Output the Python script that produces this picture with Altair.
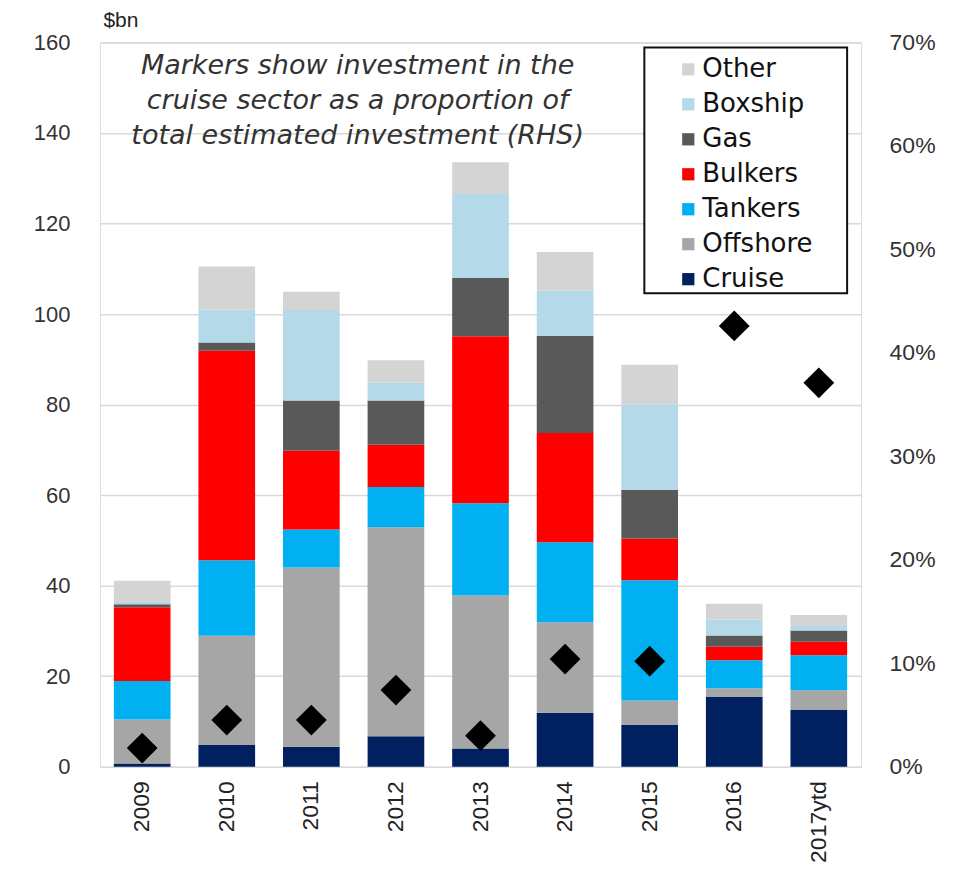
import altair as alt
import pandas as pd

years = ["2009", "2010", "2011", "2012", "2013", "2014", "2015", "2016", "2017ytd"]
cruise = [0.7, 4.8, 4.4, 6.7, 4.0, 11.9, 9.2, 15.4, 12.5]
offshore = [9.7, 24.1, 39.6, 46.2, 33.8, 20.0, 5.4, 1.9, 4.4]
tankers = [8.5, 16.7, 8.4, 8.9, 20.4, 17.7, 26.6, 6.2, 7.7]
bulkers = [16.3, 46.3, 17.4, 9.3, 36.9, 24.1, 9.2, 3.0, 3.0]
gas = [0.7, 1.8, 11.1, 9.8, 12.9, 21.5, 10.8, 2.5, 2.5]
boxship = [0.5, 7.3, 20.0, 3.9, 18.5, 10.0, 18.8, 3.5, 1.0]
other = [4.7, 9.5, 4.0, 5.0, 7.0, 8.5, 8.8, 3.5, 2.4]
cruise_share = [1.8, 4.5, 4.5, 7.4, 3.0, 10.4, 10.2, 42.6, 37.1]

series_names = ["Cruise", "Offshore", "Tankers", "Bulkers", "Gas", "Boxship", "Other"]
series_values = [cruise, offshore, tankers, bulkers, gas, boxship, other]
series_colors = ["#002060", "#a6a6a6", "#00b0f0", "#ff0000", "#595959", "#b4d9e8", "#d4d4d4"]

rows = []
for i, (name, vals) in enumerate(zip(series_names, series_values)):
    for y, v in zip(years, vals):
        rows.append({"year": y, "sector": name, "value": v, "ord": i})
bars_df = pd.DataFrame(rows)
share_df = pd.DataFrame({"year": years, "share": cruise_share})

legend_order = series_names[::-1]
color_scale = alt.Scale(domain=legend_order,
                        range=[series_colors[series_names.index(n)] for n in legend_order])

FONT = "Liberation Sans"
WIDE = "DejaVu Sans"

x_enc = alt.X("year:N", sort=years,
              scale=alt.Scale(paddingInner=0.33, paddingOuter=0.165),
              axis=alt.Axis(title=None, labelAngle=-90, labelFontSize=23, labelFont=FONT,
                            labelColor="#222", labelPadding=14, ticks=False, domain=False))

bars = alt.Chart(bars_df).mark_bar().encode(
    x=x_enc,
    y=alt.Y("value:Q", stack="zero",
            scale=alt.Scale(domain=[0, 160], nice=False),
            axis=alt.Axis(values=list(range(0, 161, 20)), title="$bn", titleAngle=0,
                          titleX=3, titleY=-22, titleAlign="left", titleBaseline="middle",
                          titleFontSize=21, titleFontWeight="normal", titleFont=FONT,
                          titleColor="#222",
                          labelFontSize=22, labelFont=FONT, labelColor="#333",
                          labelPadding=30, ticks=False, domain=False,
                          grid=True, gridColor="#d9d9d9", gridWidth=1.5)),
    color=alt.Color("sector:N", scale=color_scale,
                    legend=alt.Legend(title=None, orient="none", legendX=545, legendY=9,
                                      padding=5, fillColor="transparent",
                                      strokeColor="transparent",
                                      symbolType="square",
                                      symbolSize=150, symbolStrokeWidth=0,
                                      symbolOffset=26,
                                      labelFontSize=26, labelFont=WIDE, labelColor="#111",
                                      labelOffset=1, rowPadding=9, labelLimit=250)),
    order=alt.Order("ord:Q", sort="ascending"),
)

points = alt.Chart(share_df).mark_point(shape="diamond", filled=True, color="black",
                                        size=950, opacity=1).encode(
    x=alt.X("year:N", sort=years),
    y=alt.Y("share:Q", scale=alt.Scale(domain=[0, 70], nice=False),
            axis=alt.Axis(orient="right", values=list(range(0, 71, 10)), title=None,
                          labelExpr="datum.value + '%'", labelFontSize=23, labelFont=FONT,
                          labelColor="#333", labelPadding=28, ticks=False, domain=False,
                          grid=False)),
)

note = alt.Chart(pd.DataFrame({"t": [0]})).mark_text(
    text=["Markers show investment in the",
          "cruise sector as a proportion of",
          "total estimated investment (RHS)"],
    font=WIDE, fontSize=27, fontStyle="italic", color="#333",
    align="center", baseline="top", lineHeight=35,
).encode(x=alt.value(258), y=alt.value(11))

legend_box = alt.Chart(pd.DataFrame({"t": [0]})).mark_rect(
    fill="white", stroke="#111", strokeWidth=2
).encode(x=alt.value(545), x2=alt.value(748), y=alt.value(5), y2=alt.value(251))

chart = alt.layer(bars, points, note, legend_box).resolve_scale(y="independent").properties(
    width=762, height=725,
    autosize=alt.AutoSizeParams(type="none"),
    padding={"left": 92, "top": 34, "right": 110, "bottom": 118},
).configure_view(stroke="#8c8c8c", strokeWidth=1.5).configure(background="white")

chart.save("out.html", embed_options={"renderer": "svg", "actions": False})
